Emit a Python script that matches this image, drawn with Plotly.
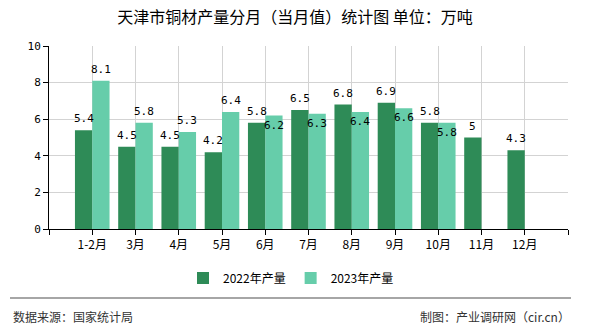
import plotly.graph_objects as go

categories = ['1-2月', '3月', '4月', '5月', '6月', '7月', '8月', '9月', '10月', '11月', '12月']
v2022 = [5.4, 4.5, 4.5, 4.2, 5.8, 6.5, 6.8, 6.9, 5.8, 5, 4.3]
v2023 = [8.1, 5.8, 5.3, 6.4, 6.2, 6.3, 6.4, 6.6, 5.8, None, None]
name2022 = '2022年产量'
name2023 = '2023年产量'
y_ticks = [0, 2, 4, 6, 8, 10]

C1 = '#2E8B57'
C2 = '#66CDAA'
CJK = 'Noto Sans CJK SC'
MONO = 'DejaVu Sans Mono'

x = list(range(len(categories)))

fig = go.Figure()
fig.add_bar(x=x, y=v2022, name=name2022, marker=dict(color=C1, line=dict(width=0)))
fig.add_bar(x=x, y=v2023, name=name2023, marker=dict(color=C2, line=dict(width=0)))

L, R, T, B = 49, 22, 46, 101
W, H = 590, 330
pw = W - L - R
ph = H - T - B
unit = pw / 12.0
half = 0.2 * unit

ann = []
for i, v in enumerate(v2022):
    if v is None:
        continue
    ann.append(dict(x=i, y=v, xref='x', yref='y', text=f'{v:g}', showarrow=False,
                    xshift=-half, yshift=3, yanchor='bottom',
                    font=dict(family=MONO, size=11, color='#000')))
for i, v in enumerate(v2023):
    if v is None:
        continue
    above = (v - v2022[i]) > 0.5
    ann.append(dict(x=i, y=v, xref='x', yref='y', text=f'{v:g}', showarrow=False,
                    xshift=half, yshift=3 if above else -1,
                    yanchor='bottom' if above else 'top',
                    font=dict(family=MONO, size=11, color='#000')))

def px_x(p):
    return (p - L) / pw

def px_y(p):
    return (H - B - p) / ph

ann.append(dict(x=px_x(11), y=px_y(316), xref='paper', yref='paper', text='数据来源：国家统计局',
                showarrow=False, xanchor='left', yanchor='middle',
                font=dict(family=CJK, size=12, color='#333')))
ann.append(dict(x=px_x(572), y=px_y(316), xref='paper', yref='paper', text='制图：产业调研网（cir.cn）',
                showarrow=False, xanchor='right', yanchor='middle',
                font=dict(family=CJK, size=12, color='#333')))

shapes = [dict(type='line', xref='paper', yref='paper', x0=px_x(10), x1=px_x(571),
               y0=px_y(298), y1=px_y(298), line=dict(color='#888', width=1.5))]

fig.update_layout(
    width=W, height=H,
    margin=dict(l=L, r=R, t=T, b=B, pad=0),
    paper_bgcolor='white', plot_bgcolor='white',
    barmode='group', bargap=0.2, bargroupgap=0,
    title=dict(text='天津市铜材产量分月（当月值）统计图 单位：万吨', x=0.5, xref='container',
               xanchor='center', y=1 - 17.5 / H, yref='container', yanchor='middle',
               font=dict(family=CJK, size=16, color='#000')),
    legend=dict(orientation='h', x=px_x(291), xanchor='center', y=px_y(278), yanchor='middle',
                font=dict(family=CJK, size=12, color='#000'), itemwidth=30, traceorder='normal'),
    annotations=ann,
    shapes=shapes,
    font=dict(family=CJK, size=12, color='#000'),
)
fig.update_xaxes(range=[-1, 11], tickmode='array', tickvals=list(range(-1, 12)),
                 ticktext=[''] + categories + [''], showgrid=True, gridcolor='#d3d3d3',
                 showline=True, linecolor='#000', linewidth=1, ticks='outside', ticklen=5,
                 tickcolor='#000', zeroline=False, tickfont=dict(family=CJK, size=12, color='#000'))
fig.update_yaxes(range=[0, 10], tickmode='array', tickvals=y_ticks, showgrid=True, gridcolor='#d3d3d3',
                 showline=True, linecolor='#000', linewidth=1, ticks='outside', ticklen=5,
                 tickcolor='#000', zeroline=False, tickfont=dict(family=MONO, size=11, color='#000'))

fig.write_html('out.html')
